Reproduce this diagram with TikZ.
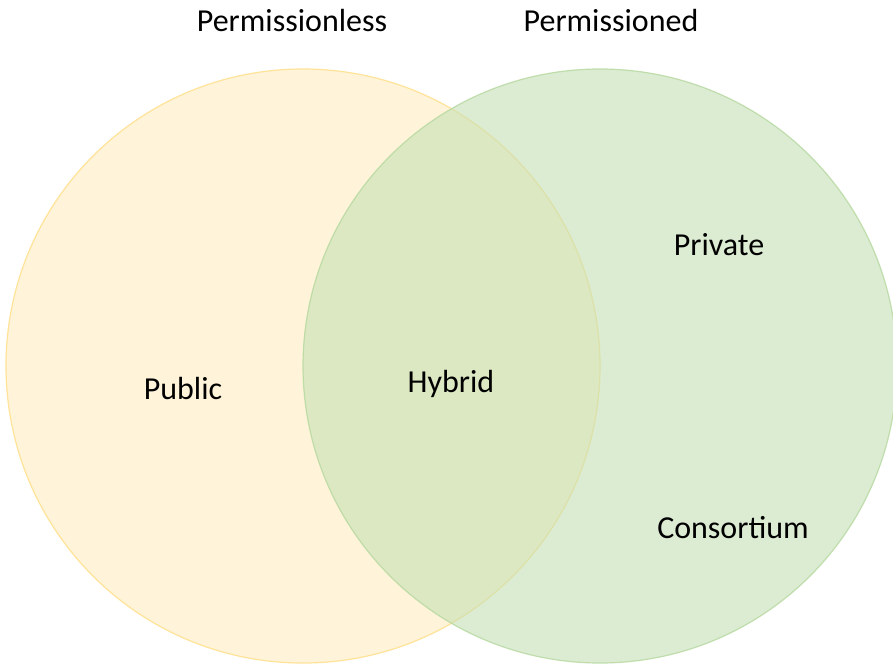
\documentclass[tikz,border=0pt]{standalone}
\usepackage{fontspec}
\setmainfont{Carlito}
\definecolor{yfill}{HTML}{FFF4D9}
\definecolor{ydraw}{HTML}{FFE399}
\definecolor{gfill}{HTML}{C5E0B4}
\definecolor{gdraw}{HTML}{B5D89F}
\begin{document}
\begin{tikzpicture}[x=1pt,y=-1pt,
  lbl/.style={font=\fontsize{32}{38}\selectfont, text=black, inner sep=0pt}]
\useasboundingbox (0,0) rectangle (893,665);
\fill[white] (0,0) rectangle (893,665);
\node[circle, minimum size=594pt, fill=yfill, draw=ydraw, line width=1.2pt] (perml) at (303,366) {};
\node[circle, minimum size=594pt, fill=gfill, fill opacity=0.6, draw=gdraw, draw opacity=0.8, line width=1.2pt] (perm) at (600,366) {};
\node[lbl] (tl) at (292,21) {Permissionless};
\node[lbl] (tr) at (611,21) {Permissioned};
\node[lbl] (pub) at (183,388) {Public};
\node[lbl] (hyb) at (451,384) {Hybrid};
\node[lbl] (pri) at (719,245) {Private};
\node[lbl] (con) at (733,528) {Consortium};
\end{tikzpicture}
\end{document}
